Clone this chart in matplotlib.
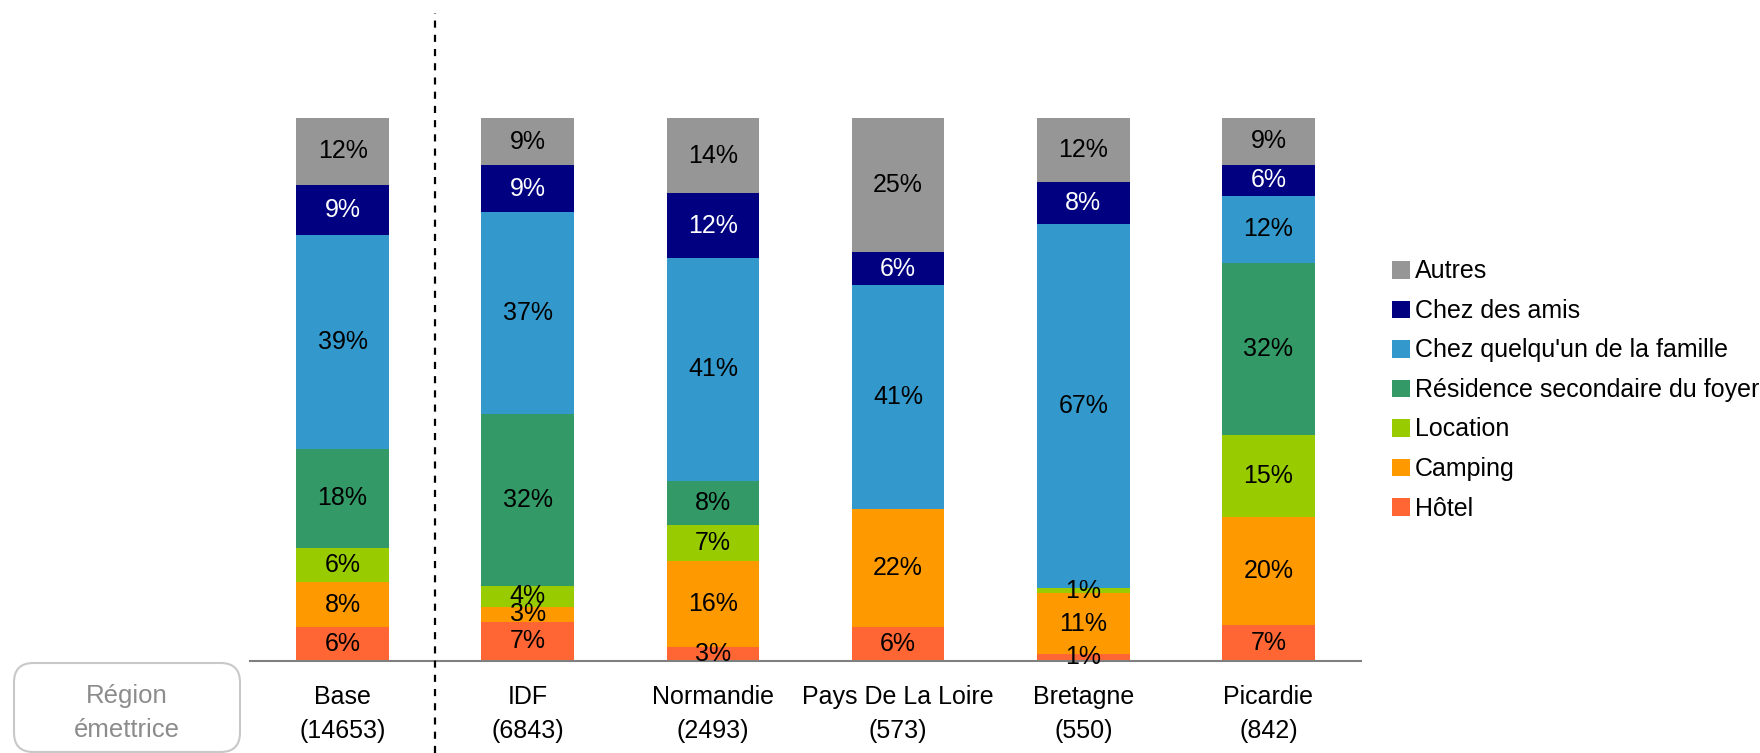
import matplotlib
matplotlib.use("Agg")
import matplotlib.pyplot as plt
from matplotlib.patches import FancyBboxPatch, Patch
from matplotlib.lines import Line2D
import matplotlib.transforms as mtransforms

plt.rcParams['font.family'] = ['Liberation Sans', 'DejaVu Sans']

categories = ["Base\n(14653)", "IDF\n(6843)", "Normandie\n(2493)",
              "Pays De La Loire\n(573)", "Bretagne\n(550)", "Picardie\n(842)"]

# values (%) per series, bottom to top
hotel     = [6.2, 7.2, 2.6, 6.2, 1.3, 6.7]
camping   = [8.3, 2.8, 15.8, 21.8, 11.2, 19.9]
location  = [6.4, 3.9, 6.6, 0.0, 0.9, 15.1]
residence = [18.2, 31.6, 8.2, 0.0, 0.0, 31.6]
famille   = [39.4, 37.2, 41.0, 41.2, 67.0, 12.4]
amis      = [9.2, 8.6, 11.9, 6.1, 7.8, 5.7]
autres    = [12.3, 8.7, 13.9, 24.7, 11.8, 8.6]

series_names = ["Hôtel", "Camping", "Location", "Résidence secondaire du foyer",
                "Chez quelqu'un de la famille", "Chez des amis", "Autres"]
series_values = [hotel, camping, location, residence, famille, amis, autres]
colors = ["#FF6633", "#FF9900", "#99CC00", "#339966", "#3399CC", "#000080", "#969696"]
text_colors = ["black", "black", "black", "black", "black", "white", "black"]

FS = 18

fig = plt.figure(figsize=(17.6, 7.53), dpi=100)
ax = fig.add_axes([250/1760, 1-661/753, (1361-250)/1760, (661-118)/753])

x = list(range(len(categories)))
bottoms = [0.0]*len(categories)
for name, vals, col, tcol in zip(series_names, series_values, colors, text_colors):
    ax.bar(x, vals, width=0.5, bottom=bottoms, color=col, label=name, linewidth=0)
    for i, v in enumerate(vals):
        if v > 0:
            ax.text(i, bottoms[i] + v/2, f"{round(v)}%", ha="center", va="center",
                    fontsize=FS, color=tcol)
    bottoms = [b + v for b, v in zip(bottoms, vals)]

ax.set_xlim(-0.5, 5.5)
ax.set_ylim(0, 100)
for s in ["top", "right", "left"]:
    ax.spines[s].set_visible(False)
ax.spines["bottom"].set_color("#808080")
ax.spines["bottom"].set_linewidth(1.5)
ax.set_yticks([])
ax.set_xticks(x)
ax.set_xticklabels(categories, fontsize=FS, linespacing=1.55)
ax.tick_params(axis="x", length=0, pad=17)

# dashed separator
trans = mtransforms.blended_transform_factory(ax.transData, fig.transFigure)
fig.add_artist(Line2D([0.5, 0.5], [0, 1-13/753], transform=trans, color="black",
                      linewidth=1.6, linestyle=(0, (3.2, 3.2))))

# "Région émettrice" box
box = FancyBboxPatch((14/1760, 1/753), (240-14)/1760, (663-1)/753 - (663-1)/753 + (752-663)/753,
                     boxstyle="round,pad=0,rounding_size=0.011", transform=fig.transFigure,
                     facecolor="white", edgecolor="#c8c8c8", linewidth=1.5,
                     mutation_aspect=1760/753)
fig.add_artist(box)
fig.text(127/1760, 1-713/753, "Région\némettrice", ha="center", va="center",
         fontsize=18.5, color="#8c8c8c", linespacing=1.55)

handles = [Patch(facecolor=c, edgecolor="none") for c in colors][::-1]
labels = series_names[::-1]
fig.legend(handles, labels, loc="center left", bbox_to_anchor=(1392/1760, 1-390/753),
           frameon=False, fontsize=FS, handlelength=0.7, handleheight=0.7,
           handletextpad=0.2, labelspacing=0.62, borderpad=0, borderaxespad=0)

fig.savefig("out.png", dpi=100)
